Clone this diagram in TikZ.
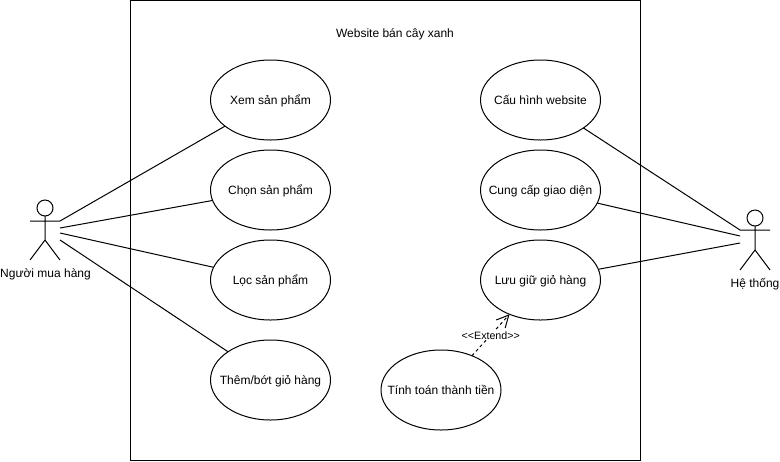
\documentclass[tikz,border=0pt]{standalone}
\usepackage{fontspec}
\setmainfont{Liberation Sans}
\usetikzlibrary{shapes.geometric,arrows.meta}
\newcommand{\uctext}[1]{\makebox[0pt]{#1}}
\tikzset{
  usecase/.style={draw=black,line width=0.75pt,fill=white,ellipse,minimum width=90pt,minimum height=60pt,inner sep=0pt,outer sep=0pt,text height=6pt,text depth=0pt,font=\fontsize{9}{11}\selectfont,text=black},
  lbl/.style={inner sep=0pt,font=\fontsize{9}{11}\selectfont,text=black},
  actorline/.style={draw=black,line width=0.75pt},
  assoc/.style={draw=black,line width=0.75pt},
  ext/.style={draw=black,line width=0.75pt,dash pattern=on 2.25pt off 2.25pt,-{Straight Barb[length=9pt,width=9pt,line width=0.75pt]}}
}
\begin{document}
\begin{tikzpicture}[x=0.75pt,y=-0.75pt]
\useasboundingbox (0,0) rectangle (780,461);
\node[draw=black,line width=0.75pt,minimum width=382.5pt,minimum height=345pt,inner sep=0pt,outer sep=0pt] (sys) at (385,230) {};
\node[lbl] (title) at (395,34.5) {Website bán cây xanh};
\node[usecase] (xem) at (270.5,100) {\uctext{Xem sản phẩm}};
\node[usecase] (chon) at (270.5,190) {\uctext{Chọn sản phẩm}};
\node[usecase] (loc) at (270.5,280) {\uctext{Lọc sản phẩm}};
\node[usecase] (them) at (270.5,380) {\uctext{Thêm/bớt giỏ hàng}};
\node[usecase] (cau) at (540.5,100) {\uctext{Cấu hình website}};
\node[usecase] (cung) at (540.5,190) {\uctext{Cung cấp giao diện}};
\node[usecase] (luu) at (540.5,280) {\uctext{Lưu giữ giỏ hàng}};
\node[usecase] (tinh) at (441,390) {\uctext{Tính toán thành tiền}};
% left actor
\draw[actorline] (45,208) circle[radius=8];
\draw[actorline] (45,216) -- (45,240) (30,221) -- (60,221) (30,260) -- (45,240) -- (60,260);
\node[lbl] (buyer) at (45.5,274.5) {Người mua hàng};
\coordinate (a1) at (60,221);
\coordinate (a2) at (60,228);
\coordinate (a3) at (60,233);
\coordinate (a4) at (60,240);
% right actor
\draw[actorline] (755,218) circle[radius=8];
\draw[actorline] (755,226) -- (755,250) (740,230) -- (770,230) (740,270) -- (755,250) -- (770,270);
\node[lbl] (sysactor) at (755,284.5) {Hệ thống};
\coordinate (b1) at (740,230);
\coordinate (b2) at (740,236);
\coordinate (b3) at (740,243);
\draw[assoc] (a1) -- (xem);
\draw[assoc] (a2) -- (chon);
\draw[assoc] (a3) -- (loc);
\draw[assoc] (a4) -- (them);
\draw[assoc] (b1) -- (cau);
\draw[assoc] (b2) -- (cung);
\draw[assoc] (b3) -- (luu);
\draw[ext] (tinh) -- node[fill=white,inner sep=0.5pt,font=\fontsize{8}{9}\selectfont,pos=0.5,yshift=-0.5pt] (extlbl) {<{}<Extend>{}>} (luu);
\end{tikzpicture}
\end{document}
